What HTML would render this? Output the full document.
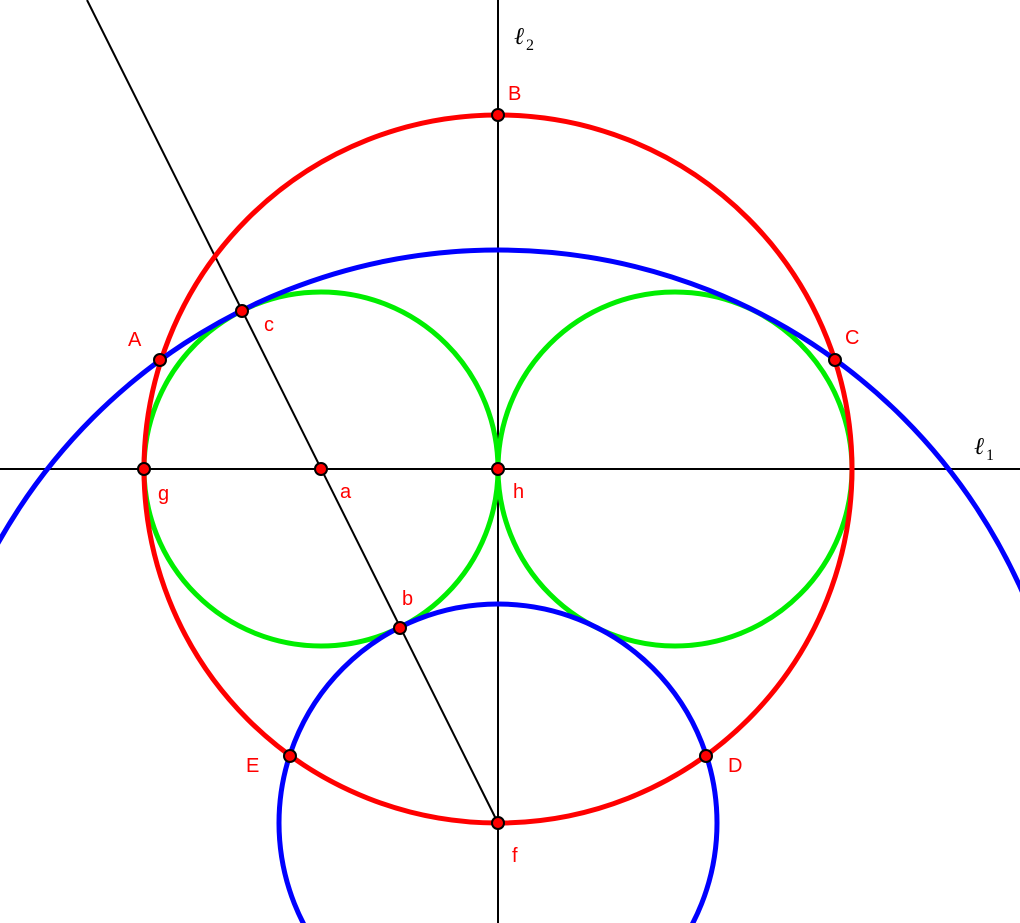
<!DOCTYPE html>
<html><head><meta charset="utf-8"><style>
html,body{margin:0;padding:0;background:#fff;width:1020px;height:923px;overflow:hidden;}
svg{display:block}
text{font-family:"Liberation Sans",sans-serif;font-size:20px;fill:#f00}
.it{font-family:"Liberation Serif",serif;font-style:italic;fill:#000;font-size:24px}
.sub{font-family:"Liberation Serif",serif;fill:#000;font-size:16px}
</style></head><body>
<svg width="1020" height="923" viewBox="0 0 1020 923">
<line x1="0" y1="469" x2="1020" y2="469" stroke="#000" stroke-width="2"/>
<line x1="498" y1="0" x2="498" y2="923" stroke="#000" stroke-width="2"/>
<line x1="87" y1="0" x2="498" y2="823" stroke="#000" stroke-width="2"/>
<g fill="none" stroke-width="5">
<circle cx="321" cy="469" r="177" stroke="#00ee00"/>
<circle cx="675" cy="469" r="177" stroke="#00ee00"/>
<circle cx="498" cy="469" r="354" stroke="#f00"/>
<circle cx="498" cy="823" r="573" stroke="#0000ff"/>
<circle cx="498" cy="823" r="219" stroke="#0000ff"/>
</g>
<g fill="#f00" stroke="#000" stroke-width="2">
<circle cx="498" cy="115" r="6"/>
<circle cx="160" cy="360" r="6"/>
<circle cx="835" cy="360" r="6"/>
<circle cx="242" cy="311" r="6"/>
<circle cx="144" cy="469" r="6"/>
<circle cx="321" cy="469" r="6"/>
<circle cx="498" cy="469" r="6"/>
<circle cx="400" cy="628" r="6"/>
<circle cx="290" cy="756" r="6"/>
<circle cx="706" cy="756" r="6"/>
<circle cx="498" cy="823" r="6"/>
</g>
<text x="508" y="100">B</text>
<text x="128" y="346">A</text>
<text x="845" y="344">C</text>
<text x="264" y="331">c</text>
<text x="158" y="500">g</text>
<text x="340" y="498">a</text>
<text x="513" y="498">h</text>
<text x="402" y="605">b</text>
<text x="246" y="772">E</text>
<text x="728" y="772">D</text>
<text x="512" y="862">f</text>
<text x="514" y="44" class="it">ℓ</text><text x="526" y="50" class="sub">2</text>
<text x="974" y="454" class="it">ℓ</text><text x="986" y="460" class="sub">1</text>
</svg>
</body></html>
